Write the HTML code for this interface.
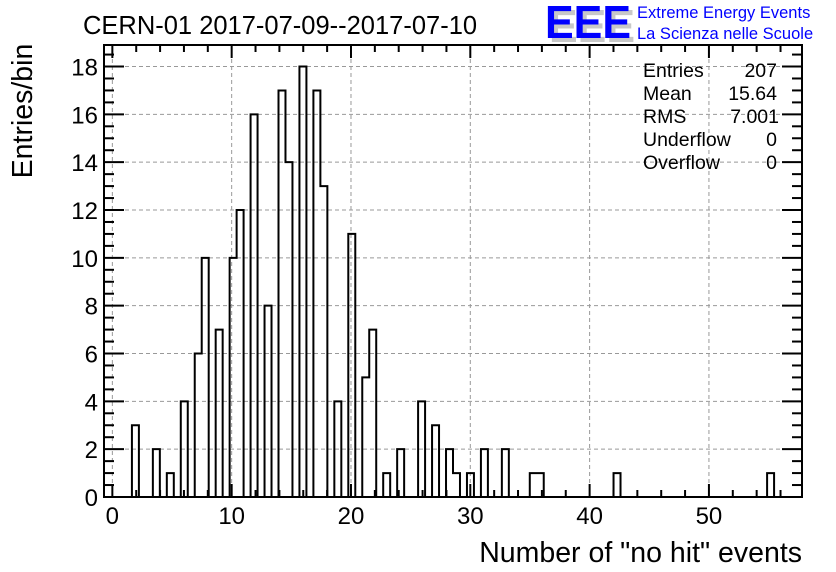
<!DOCTYPE html>
<html><head><meta charset="utf-8"><style>
body{margin:0;background:#fff;}
svg{display:block;font-family:"Liberation Sans",sans-serif;}
</style></head><body>
<svg id="c" width="836" height="572" xmlns="http://www.w3.org/2000/svg">
<rect width="836" height="572" fill="#fff"/>
<g id="grid"></g>
<g id="bars"></g>
<g id="axes"></g>
<text x="83" y="34" font-size="25.5">CERN-01 2017-07-09--2017-07-10</text>
<text transform="translate(32,111) rotate(-90)" text-anchor="middle" font-size="28.5">Entries/bin</text>
<text x="802" y="562" text-anchor="end" font-size="28.5">Number of "no hit" events</text>
<g>
<text x="549" y="42" font-size="46" font-weight="bold" fill="#c8c8c8" textLength="86" lengthAdjust="spacingAndGlyphs">EEE</text>
<text x="545" y="38" font-size="46" font-weight="bold" fill="#0000ff" textLength="86" lengthAdjust="spacingAndGlyphs">EEE</text>
<text x="637" y="18" font-size="16.5" fill="#0000ff">Extreme Energy Events</text>
<text x="637" y="39" font-size="16.5" fill="#0000ff">La Scienza nelle Scuole</text>
</g>
<g font-size="19.5">
<text x="643" y="77">Entries</text><text x="777" y="77" text-anchor="end">207</text>
<text x="643" y="100">Mean</text><text x="777" y="100" text-anchor="end">15.64</text>
<text x="643" y="123">RMS</text><text x="779" y="123" text-anchor="end">7.001</text>
<text x="643" y="146">Underflow</text><text x="777" y="146" text-anchor="end">0</text>
<text x="643" y="169">Overflow</text><text x="777" y="169" text-anchor="end">0</text>
</g>
</svg>
<script>
const binStart = -0.7;
const binWidth = 0.585;
const binIndex = [4,7,9,11,13,14,16,18,19,21,23,25,26,28,30,31,33,35,37,38,40,42,45,47,49,50,52,54,57,61,62,73,95];
const binCount = [3,2,1,4,6,10,7,10,12,16,8,17,14,18,17,13,4,11,5,7,1,2,4,3,2,1,1,2,2,1,1,1,1];
const xTicks = [0,10,20,30,40,50];
const yTicks = [0,2,4,6,8,10,12,14,16,18];
const NB = 100;
const L=104,R=802,T=45,B=497,xMin=-0.7,xMax=57.8,yMax=18.9;
const X=v=>L+(v-xMin)/(xMax-xMin)*(R-L);
const Y=v=>B-v/yMax*(B-T);
const NS="http://www.w3.org/2000/svg";
function mk(tag,attrs,parent){const e=document.createElementNS(NS,tag);for(const k in attrs)e.setAttribute(k,attrs[k]);parent.appendChild(e);return e;}
const grid=document.getElementById('grid'),bars=document.getElementById('bars'),axes=document.getElementById('axes');
xTicks.forEach(t=>{const l=mk('line',{x1:X(t),x2:X(t),y1:T,y2:B,stroke:'#999','stroke-dasharray':'4,3','stroke-width':1},grid);
});
yTicks.slice(1).forEach(t=>{const l=mk('line',{x1:L,x2:R,y1:Y(t),y2:Y(t),stroke:'#999','stroke-dasharray':'4,3','stroke-width':1},grid);
});
const counts=new Array(NB).fill(0);
binIndex.forEach((k,i)=>counts[k]=binCount[i]);
let d=`M${X(binStart)},${Y(0)}`;
for(let k=0;k<NB;k++){const x0=X(binStart+k*binWidth),x1=X(binStart+(k+1)*binWidth);d+=`L${x0},${Y(counts[k])}L${x1},${Y(counts[k])}`;}
const p=mk('path',{d:d,fill:'none',stroke:'#000','stroke-width':2},bars);


const f=mk('rect',{x:L,y:T,width:R-L,height:B-T,fill:'none',stroke:'#000','stroke-width':2},axes);


for(let v=0;v<=xMax;v+=2){const maj=v%10===0;const len=maj?13:7;
mk('line',{x1:X(v),x2:X(v),y1:B,y2:B-len,stroke:'#000','stroke-width':2},axes);
mk('line',{x1:X(v),x2:X(v),y1:T,y2:T+len,stroke:'#000','stroke-width':2},axes);}
xTicks.forEach(t=>{const e=mk('text',{x:X(t),y:524,'text-anchor':'middle','font-size':24},axes);e.textContent=t;
});
for(let v=0;v<=yMax;v+=0.5){const maj=Math.abs(v%2)<1e-9;const len=maj?20:10;
mk('line',{x1:L,x2:L+len,y1:Y(v),y2:Y(v),stroke:'#000','stroke-width':2},axes);
mk('line',{x1:R,x2:R-len,y1:Y(v),y2:Y(v),stroke:'#000','stroke-width':2},axes);}
yTicks.forEach(t=>{const e=mk('text',{x:L-6,y:Y(t)+9,'text-anchor':'end','font-size':24},axes);e.textContent=t;
});
</script>
</body></html>
